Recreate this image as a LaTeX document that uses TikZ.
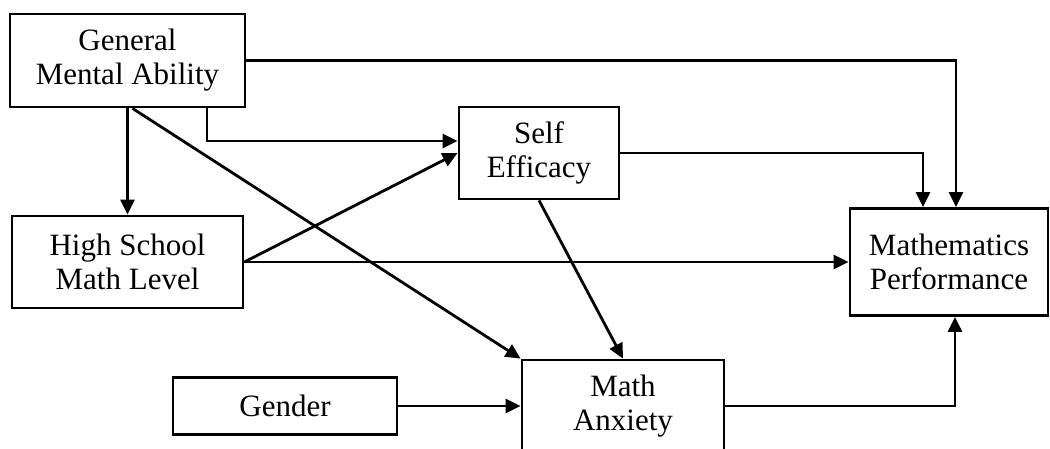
\documentclass[tikz,border=0pt]{standalone}
\usepackage{fontspec}
\setmainfont{Liberation Serif}
\usetikzlibrary{arrows.meta}
\usetikzlibrary{calc}

\begin{document}
\begin{tikzpicture}[x=1pt, y=-1pt,
    var/.style={draw, line width=2.8pt, align=center, inner sep=0pt,
      font=\fontsize{31}{34}\selectfont},
    path/.style={line width=2.8pt, -{Triangle[length=15pt,width=14pt]}}]

      \clip (0,0) rectangle (1050,448);

      \node[var, minimum width=235, minimum height=93] (gma) at (127.5,60.5) {General\\Mental Ability};
      \node[var, minimum width=160, minimum height=92] (se) at (539,153) {Self\\Efficacy};
      \node[var, minimum width=231, minimum height=92] (hsml) at (127.5,262) {High School\\Math Level};
      \node[var, minimum width=198, minimum height=107] (mp) at (949,262) {Mathematics\\Performance};
      \node[var, minimum width=224, minimum height=57] (gender) at (285,406) {Gender};
      \node[var, minimum width=202, minimum height=92] (ma) at (623,406) {Math\\Anxiety};

      \draw[path] (gma.east) -| ([xshift=7pt]mp.north);
      \draw[path] (se.east) -| ([xshift=-26pt]mp.north);
      \draw[path] ([xshift=79.5pt]gma.south) |- ([yshift=12pt]se.west);
      \draw[path] (gma.south) -- (hsml.north);
      \draw[path] ([xshift=5pt]gma.south) -- (ma.north west);
      \draw[path] (hsml.east) -- (se.west);
      \draw[path] (hsml.east) -- (mp.west);
      \draw[path] (se.south) -- (ma.north);
      \draw[path] (gender.east) -- (ma.west);
      \draw[path] (ma.east) -| ([xshift=6pt]mp.south);
    \end{tikzpicture}
\end{document}
